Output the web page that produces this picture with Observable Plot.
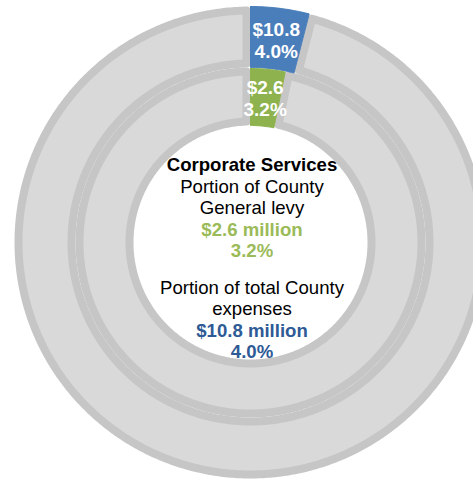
<!DOCTYPE html>
<html>
<head>
<meta charset="utf-8">
<script src="https://cdn.jsdelivr.net/npm/d3@7"></script>
<script src="https://cdn.jsdelivr.net/npm/@observablehq/plot@0.6"></script>
<style>
  html, body { margin: 0; padding: 0; background: #ffffff; }
  #chart { width: 473px; height: 480px; }
</style>
</head>
<body>
<div id="chart"></div>
<script>
// ---- data ----
const ringNames = ["Portion of total County expenses", "Portion of County General levy"];
const outerShares = [4.0, 96.0];      // % of total County expenses (Corporate Services, rest)
const innerShares = [3.2, 96.8];      // % of County General levy (Corporate Services, rest)
const outerAmount = 10.8;             // $ million
const innerAmount = 2.6;              // $ million
const centerTitle = "Corporate Services";
const levyLines = ["Portion of County", "General levy"];
const expenseLines = ["Portion of total County", "expenses"];

// ---- layout (styling constants) ----
const W = 473, H = 480;
const cx = 250, cy = 242;
const ringRadii = {outer: [175, 236], inner: [117, 175]};
const border = 8;
const gray = "#d9d9d9", grayStroke = "#c6c6c6";
const blue = "#4a7ebb", green = "#8db24e";
const blueText = "#2e5a96", greenText = "#9bbb59";
const font = "Liberation Sans, Arial, sans-serif";

function wedge(id, startPct, endPct, rIn, rOut, inset) {
  const a0 = startPct / 100 * 2 * Math.PI, a1 = endPct / 100 * 2 * Math.PI;
  const pts = [];
  const n = Math.max(4, Math.ceil((a1 - a0) / 0.01));
  const ro = rOut - inset, ri = rIn + inset;
  const dOut = inset / ro, dIn = inset / ri;
  for (let i = 0; i <= n; i++) {
    const a = (a0 + dOut) + (a1 - a0 - 2 * dOut) * i / n;
    pts.push({id, x: ro * Math.sin(a), y: ro * Math.cos(a)});
  }
  for (let i = 0; i <= n; i++) {
    const a = (a1 - dIn) - (a1 - a0 - 2 * dIn) * i / n;
    pts.push({id, x: ri * Math.sin(a), y: ri * Math.cos(a)});
  }
  pts.push({...pts[0]});
  return pts;
}

function ringSlices(shares, ring, [rIn, rOut]) {
  let cum = 0;
  return shares.map((s, i) => {
    const start = cum; cum += s;
    return {ring, i, start, end: cum, rIn, rOut};
  });
}

const outerSlices = ringSlices(outerShares, ringNames[0], ringRadii.outer);
const innerSlices = ringSlices(innerShares, ringNames[1], ringRadii.inner);
const allSlices = [...outerSlices, ...innerSlices];

const grayPts = allSlices.filter(d => d.i === 1)
  .flatMap(d => wedge(d.ring + "-rest", d.start, d.end, d.rIn, d.rOut, border / 2));
const bluePts = wedge("blue", outerSlices[0].start, outerSlices[0].end, ringRadii.outer[0], ringRadii.outer[1], 0);
const greenPts = wedge("green", innerSlices[0].start, innerSlices[0].end, ringRadii.inner[0], ringRadii.inner[1] - 1, 0);

function midLabel(slice, amount) {
  const a = (slice.start + slice.end) / 2 / 100 * 2 * Math.PI;
  const r = (slice.rIn + slice.rOut) / 2;
  return {x: r * Math.sin(a), y: r * Math.cos(a) - 1,
          text: `$${amount.toFixed(1)}\n${(slice.end - slice.start).toFixed(1)}%`};
}
const sliceLabels = [midLabel(outerSlices[0], outerAmount), midLabel(innerSlices[0], innerAmount)];

// center text lines
const lineStep = 21.4, firstLineY = 77, sectionGap = 15.5;
const centerRows = [
  {t: centerTitle, k: "title"},
  ...levyLines.map(t => ({t, k: "plain"})),
  {t: `$${innerAmount.toFixed(1)} million`, k: "green"},
  {t: `${innerShares[0].toFixed(1)}%`, k: "green"},
  ...expenseLines.map(t => ({t, k: "plain", sec: 1})),
  {t: `$${outerAmount.toFixed(1)} million`, k: "blue", sec: 1},
  {t: `${outerShares[0].toFixed(1)}%`, k: "blue", sec: 1}
].map((d, i) => ({...d, x: 1.5, y: firstLineY - i * lineStep - (d.sec ? sectionGap : 0)}));

const fs = 18.6;
const chart = Plot.plot({
  width: W, height: H,
  margin: 0,
  x: {domain: [-cx, W - cx], axis: null},
  y: {domain: [cy - H, cy], axis: null},
  style: {fontFamily: font, background: "white"},
  marks: [
    Plot.text(centerRows.filter(d => d.k === "title"), {x: "x", y: "y", text: "t", fontSize: fs, fontWeight: "bold", fill: "#000"}),
    Plot.text(centerRows.filter(d => d.k === "plain"), {x: "x", y: "y", text: "t", fontSize: fs, fill: "#000"}),
    Plot.text(centerRows.filter(d => d.k === "green"), {x: "x", y: "y", text: "t", fontSize: fs, fontWeight: "bold", fill: greenText}),
    Plot.text(centerRows.filter(d => d.k === "blue"), {x: "x", y: "y", text: "t", fontSize: fs, fontWeight: "bold", fill: blueText}),
    Plot.line(grayPts, {x: "x", y: "y", z: "id", fill: gray, stroke: grayStroke, strokeWidth: border, curve: "linear"}),
    Plot.line(bluePts, {x: "x", y: "y", z: "id", fill: blue, stroke: blue, strokeWidth: 1, curve: "linear"}),
    Plot.line(greenPts, {x: "x", y: "y", z: "id", fill: green, stroke: green, strokeWidth: 1, curve: "linear"}),
    Plot.text(sliceLabels, {x: "x", y: "y", text: "text", fontSize: 19, fontWeight: "bold", fill: "white", lineHeight: 1.15})
  ]
});
document.getElementById("chart").appendChild(chart);
</script>
</body>
</html>
